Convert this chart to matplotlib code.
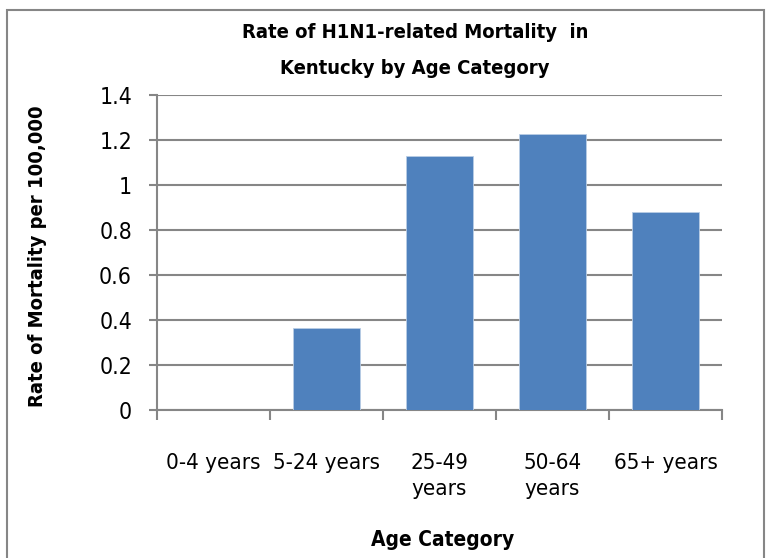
import matplotlib
matplotlib.use("Agg")
import matplotlib.pyplot as plt
from matplotlib.patches import Rectangle

categories = ["0-4 years", "5-24 years", "25-49\nyears", "50-64\nyears", "65+ years"]
rates = [0.0, 0.366, 1.128, 1.226, 0.880]
yticks = [0, 0.2, 0.4, 0.6, 0.8, 1, 1.2, 1.4]
ytick_labels = ["0", "0.2", "0.4", "0.6", "0.8", "1", "1.2", "1.4"]

plt.rcParams['font.family'] = ['DejaVu Sans']
plt.rcParams['font.stretch'] = 'condensed'

fig = plt.figure(figsize=(7.71, 5.58), dpi=100)
ax = fig.add_axes([157/771, 1-410/558, (722-157)/771, (410-95)/558])

x = list(range(len(categories)))
ax.bar(x, rates, width=0.6, color="#4F81BD", edgecolor="#B9CDE5", linewidth=0.6, zorder=3)

ax.set_xlim(-0.5, len(categories) - 0.5)
ax.set_ylim(0, 1.4)
ax.set_yticks(yticks)
ax.set_yticklabels(ytick_labels, fontsize=16.5)
ax.yaxis.grid(True, color="#868686", linewidth=1.5, zorder=0)

ax.set_xticks([i - 0.5 for i in range(len(categories) + 1)], minor=False)
ax.set_xticklabels([])
ax.set_xticks(x, minor=True)
ax.set_xticklabels(categories, minor=True, fontsize=16, linespacing=1.4, va='top')
ax.tick_params(axis='x', which='minor', length=0, pad=31)
ax.tick_params(axis='x', which='major', length=7, width=1.5, color="#868686", direction='out')
ax.tick_params(axis='y', length=6, width=1.5, color="#868686", direction='out', pad=12)

for s in ['top', 'right']:
    ax.spines[s].set_visible(False)
for s in ['left', 'bottom']:
    ax.spines[s].set_color("#868686")
    ax.spines[s].set_linewidth(1.5)

fig.text(415/771, 1-33/558, "Rate of H1N1-related Mortality  in", ha='center', va='center',
         fontsize=14.5, fontweight='bold')
fig.text(415/771, 1-68/558, "Kentucky by Age Category", ha='center', va='center',
         fontsize=14.5, fontweight='bold')
fig.text(443/771, 1-540/558, "Age Category", ha='center', va='center', fontsize=15, fontweight='bold')
fig.text(38/771, 1-256/558, "Rate of Mortality per 100,000", ha='center', va='center',
         rotation=90, fontsize=14.5, fontweight='bold')

fig.patches.append(Rectangle((7/771, -0.05), (764-7)/771, 1.05 - 10/558, transform=fig.transFigure,
                             fill=False, edgecolor="#868686", linewidth=1.5))

fig.savefig("out.png", dpi=100)
